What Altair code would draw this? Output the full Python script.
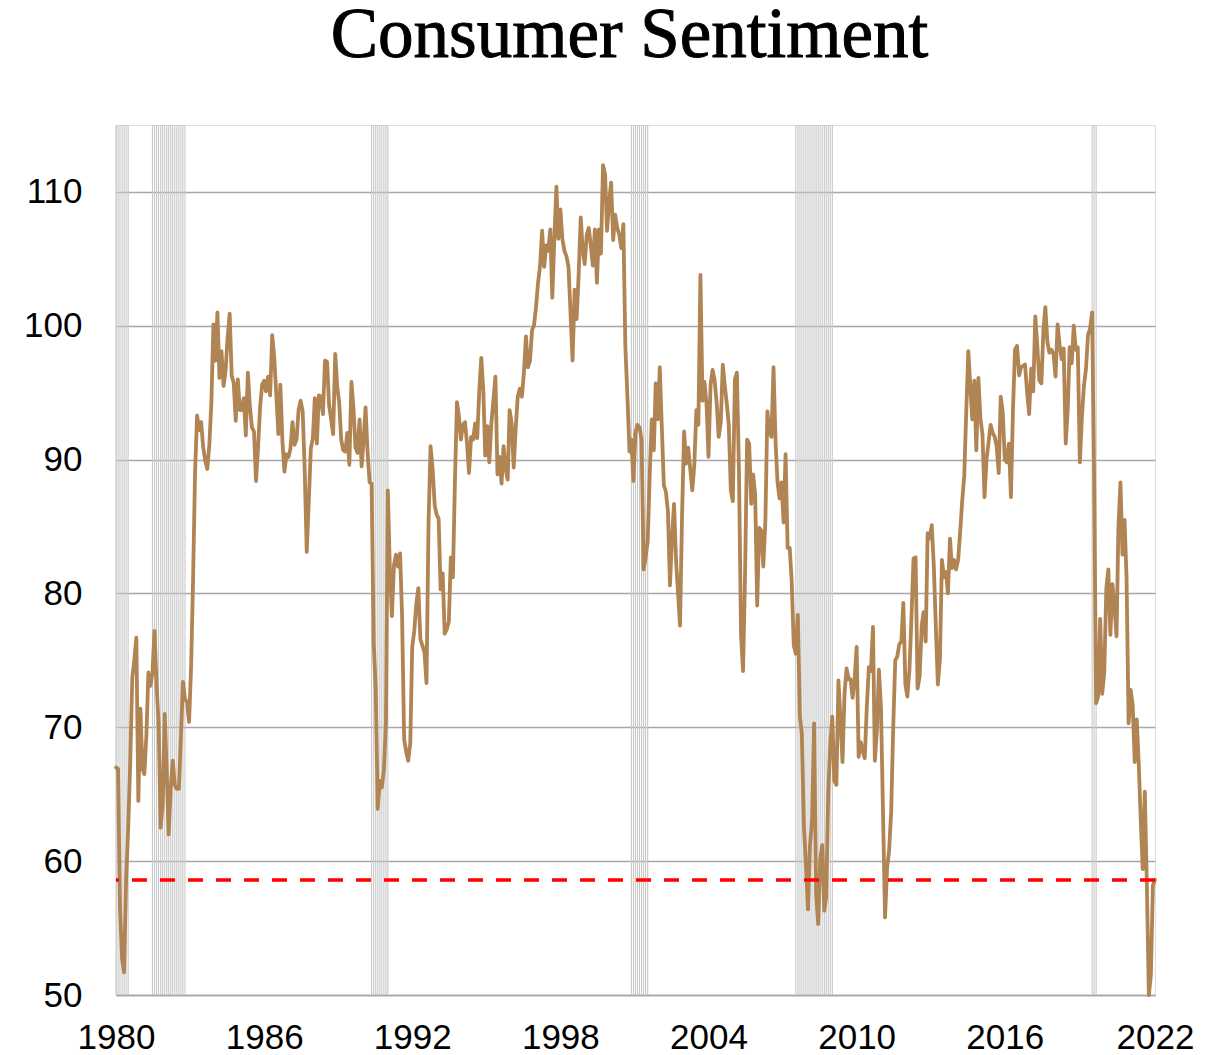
import altair as alt
import pandas as pd

# University of Michigan consumer sentiment, monthly, Jan 1980 - Sep 2022
v1980 = [67.0, 66.9, 56.5, 52.7, 51.7, 58.7, 62.3, 67.3, 73.7, 75.0, 76.7, 64.5]
v1981 = [71.4, 66.9, 66.5, 69.4, 74.1, 73.1, 74.1, 77.2, 73.1, 70.3, 62.5, 64.3]
v1982 = [71.0, 66.5, 62.0, 65.5, 67.5, 65.7, 65.4, 65.4, 69.3, 73.4, 72.1, 71.9]
v1983 = [70.4, 74.6, 80.8, 89.1, 93.3, 92.2, 92.8, 90.9, 89.9, 89.3, 91.1, 94.2]
v1984 = [100.1, 97.4, 101.0, 96.1, 98.1, 95.5, 96.6, 99.1, 100.9, 96.3, 95.7, 92.9]
v1985 = [96.0, 93.7, 93.7, 94.6, 91.8, 96.5, 94.0, 92.4, 92.1, 88.4, 90.9, 93.9]
v1986 = [95.6, 95.9, 95.1, 96.2, 94.8, 99.3, 97.7, 94.9, 91.9, 95.6, 91.4, 89.1]
v1987 = [90.4, 90.2, 90.8, 92.8, 91.1, 91.5, 93.7, 94.4, 93.6, 89.3, 83.1, 86.8]
v1988 = [90.8, 91.6, 94.6, 91.2, 94.8, 94.7, 93.4, 97.4, 97.3, 94.1, 93.0, 91.9]
v1989 = [97.9, 95.4, 94.3, 91.5, 90.7, 90.6, 92.0, 89.6, 95.8, 93.9, 90.9, 90.5]
v1990 = [93.0, 89.5, 91.3, 93.9, 90.6, 88.3, 88.2, 76.4, 72.8, 63.9, 66.0, 65.5]
v1991 = [66.8, 70.4, 87.7, 81.8, 78.3, 82.1, 82.9, 82.0, 83.0, 78.3, 69.1, 68.2]
v1992 = [67.5, 68.8, 76.0, 77.2, 79.2, 80.4, 76.6, 76.1, 75.6, 73.3, 85.3, 91.0]
v1993 = [89.3, 86.6, 85.9, 85.6, 80.3, 81.5, 77.0, 77.3, 77.9, 82.7, 81.2, 88.2]
v1994 = [94.3, 93.2, 91.5, 92.6, 92.8, 91.2, 89.0, 91.7, 91.5, 92.7, 91.6, 95.1]
v1995 = [97.6, 95.1, 90.3, 92.5, 89.8, 92.7, 94.4, 96.2, 88.9, 90.2, 88.2, 91.0]
v1996 = [89.3, 88.5, 93.7, 92.7, 89.4, 92.4, 94.7, 95.3, 94.7, 96.5, 99.2, 96.9]
v1997 = [97.4, 99.7, 100.0, 101.4, 103.2, 104.5, 107.1, 104.4, 106.0, 105.6, 107.2, 102.1]
v1998 = [106.6, 110.4, 106.5, 108.7, 106.5, 105.6, 105.2, 104.4, 100.9, 97.4, 102.7, 100.5]
v1999 = [103.9, 108.1, 105.7, 104.6, 106.8, 107.3, 106.0, 104.5, 107.2, 103.2, 107.2, 105.4]
v2000 = [112.0, 111.3, 107.1, 109.2, 110.7, 106.4, 108.3, 107.3, 106.8, 105.8, 107.6, 98.4]
v2001 = [94.7, 90.6, 91.5, 88.4, 92.0, 92.6, 92.4, 91.5, 81.8, 82.7, 83.9, 88.8]
v2002 = [93.0, 90.7, 95.7, 93.0, 96.9, 92.4, 88.1, 87.6, 86.1, 80.6, 84.2, 86.7]
v2003 = [82.4, 79.9, 77.6, 86.0, 92.1, 89.7, 90.9, 89.3, 87.7, 89.6, 93.7, 92.6]
v2004 = [103.8, 94.4, 95.8, 94.2, 90.2, 95.6, 96.7, 95.9, 94.2, 91.7, 92.8, 97.1]
v2005 = [95.5, 94.1, 92.6, 87.7, 86.9, 96.0, 96.5, 89.1, 76.9, 74.2, 81.6, 91.5]
v2006 = [91.2, 86.7, 88.9, 87.4, 79.1, 84.9, 84.7, 82.0, 85.4, 93.6, 92.1, 91.7]
v2007 = [96.9, 91.3, 88.4, 87.1, 88.3, 85.3, 90.4, 83.4, 83.4, 80.9, 76.1, 75.5]
v2008 = [78.4, 70.8, 69.5, 62.6, 59.8, 56.4, 61.2, 63.0, 70.3, 57.6, 55.3, 60.1]
v2009 = [61.2, 56.3, 57.3, 65.1, 68.7, 70.8, 66.0, 65.7, 73.5, 70.6, 67.4, 72.5]
v2010 = [74.4, 73.6, 73.6, 72.2, 73.6, 76.0, 67.8, 68.9, 68.2, 67.7, 71.6, 74.5]
v2011 = [74.2, 77.5, 67.5, 69.8, 74.3, 71.5, 63.7, 55.8, 59.5, 60.8, 63.7, 69.9]
v2012 = [75.0, 75.3, 76.2, 76.4, 79.3, 73.2, 72.3, 74.3, 78.3, 82.6, 82.7, 72.9]
v2013 = [73.8, 77.6, 78.6, 76.4, 84.5, 84.1, 85.1, 82.1, 77.5, 73.2, 75.1, 82.5]
v2014 = [81.2, 81.6, 80.0, 84.1, 81.9, 82.5, 81.8, 82.5, 84.6, 86.9, 88.8, 93.6]
v2015 = [98.1, 95.4, 93.0, 95.9, 90.7, 96.1, 93.1, 91.9, 87.2, 90.0, 91.3, 92.6]
v2016 = [92.0, 91.7, 91.0, 89.0, 94.7, 93.5, 90.0, 89.8, 91.2, 87.2, 93.8, 98.2]
v2017 = [98.5, 96.3, 96.9, 97.0, 97.1, 95.0, 93.4, 96.8, 95.1, 100.7, 98.5, 95.9]
v2018 = [95.7, 99.7, 101.4, 98.8, 98.0, 98.2, 97.9, 96.2, 100.1, 98.6, 97.5, 98.3]
v2019 = [91.2, 93.8, 98.4, 97.2, 100.0, 98.2, 98.4, 89.8, 93.2, 95.5, 96.8, 99.3]
v2020 = [99.8, 101.0, 89.1, 71.8, 72.3, 78.1, 72.5, 74.1, 80.4, 81.8, 76.9, 80.7]
v2021 = [79.0, 76.8, 84.9, 88.3, 82.9, 85.5, 81.2, 70.3, 72.8, 71.7, 67.4, 70.6]
v2022 = [67.2, 62.8, 59.4, 65.2, 58.4, 50.0, 51.5, 58.2, 58.6]

# NBER recession periods (first month, last month)
recession_periods = [
    ("1980-01-01", "1980-07-01"),
    ("1981-07-01", "1982-11-01"),
    ("1990-07-01", "1991-03-01"),
    ("2001-03-01", "2001-11-01"),
    ("2007-12-01", "2009-06-01"),
    ("2020-02-01", "2020-04-01"),
]

title_text = "Consumer Sentiment"
y_ticks = [50, 60, 70, 80, 90, 100, 110]
x_tick_labels = ["1980", "1986", "1992", "1998", "2004", "2010", "2016", "2022"]
x_tick_months = [1, 2, 3, 4, 5, 6, 7, 9]

series = (v1980 + v1981 + v1982 + v1983 + v1984 + v1985 + v1986 + v1987 + v1988 + v1989
          + v1990 + v1991 + v1992 + v1993 + v1994 + v1995 + v1996 + v1997 + v1998 + v1999
          + v2000 + v2001 + v2002 + v2003 + v2004 + v2005 + v2006 + v2007 + v2008 + v2009
          + v2010 + v2011 + v2012 + v2013 + v2014 + v2015 + v2016 + v2017 + v2018 + v2019
          + v2020 + v2021 + v2022)

dates = pd.date_range("1980-01-01", periods=len(series), freq="MS")
df = pd.DataFrame({"date": dates.strftime("%Y-%m-%d"), "value": series})

rec_dates = []
for s, e in recession_periods:
    rec_dates += list(pd.date_range(s, e, freq="MS").strftime("%Y-%m-%d"))
rec_df = pd.DataFrame({"date": rec_dates})

latest = series[-1]

W, H = 1039, 870

tick_values = [alt.DateTime(year=int(l), month=m, date=1, utc=True)
               for l, m in zip(x_tick_labels, x_tick_months)]

x_scale = alt.Scale(
    type="utc",
    domain=[alt.DateTime(year=1980, month=1, date=1, utc=True),
            alt.DateTime(year=int(dates[-1].year), month=int(dates[-1].month), date=1, utc=True)],
    nice=False,
)
y_scale = alt.Scale(domain=[50, 115], nice=False, zero=False)

x_axis = alt.Axis(
    values=tick_values, labelExpr="utcFormat(datum.value, '%Y')", title=None,
    grid=False, ticks=False, tickSize=0, domainColor="#a6a6a6", domainWidth=1.5,
    labelFont="Liberation Sans", labelFontSize=35, labelColor="black",
    labelPadding=53, labelBaseline="alphabetic", labelFlush=False,
    labelOverlap=False, labelBound=False,
)
y_axis = alt.Axis(
    values=y_ticks, title=None, domain=False, ticks=False, tickSize=0,
    grid=True, gridColor="#a6a6a6", gridWidth=1.5,
    labelFont="Liberation Sans", labelFontSize=35, labelColor="black",
    labelPadding=34,
)

recessions = alt.Chart(rec_df).mark_rule(color="#c8c8c8", strokeWidth=1.1).encode(
    x=alt.X("date:T", scale=x_scale, axis=x_axis),
    y=alt.value(0),
    y2=alt.value(H),
)

line = alt.Chart(df).mark_line(
    color="#b08453", strokeWidth=3.8, strokeJoin="round", strokeCap="round"
).encode(
    x=alt.X("date:T", scale=x_scale, axis=x_axis),
    y=alt.Y("value:Q", scale=y_scale, axis=y_axis),
)

ref = alt.Chart(pd.DataFrame({"level": [latest]})).mark_rule(
    color="#ff0000", strokeDash=[15, 13], strokeWidth=3.5
).encode(
    y=alt.Y("level:Q", scale=y_scale, axis=y_axis),
)

title = alt.Chart(pd.DataFrame({"t": [title_text]})).mark_text(
    font="Liberation Serif", fontSize=71, fontWeight="normal", color="black",
    stroke="black", strokeWidth=1.0,
    align="center", baseline="alphabetic",
).encode(
    text="t:N",
    x=alt.value(W / 2 - 6),
    y=alt.value(-68),
)

chart = alt.layer(recessions, line, ref, title).properties(
    width=W,
    height=H,
    autosize=alt.AutoSizeParams(type="none"),
    padding={"left": 108, "top": 117, "right": 40, "bottom": 60},
).configure_view(stroke=None).configure(background="white")

chart.save("out.html", embed_options={"renderer": "svg", "actions": False})
